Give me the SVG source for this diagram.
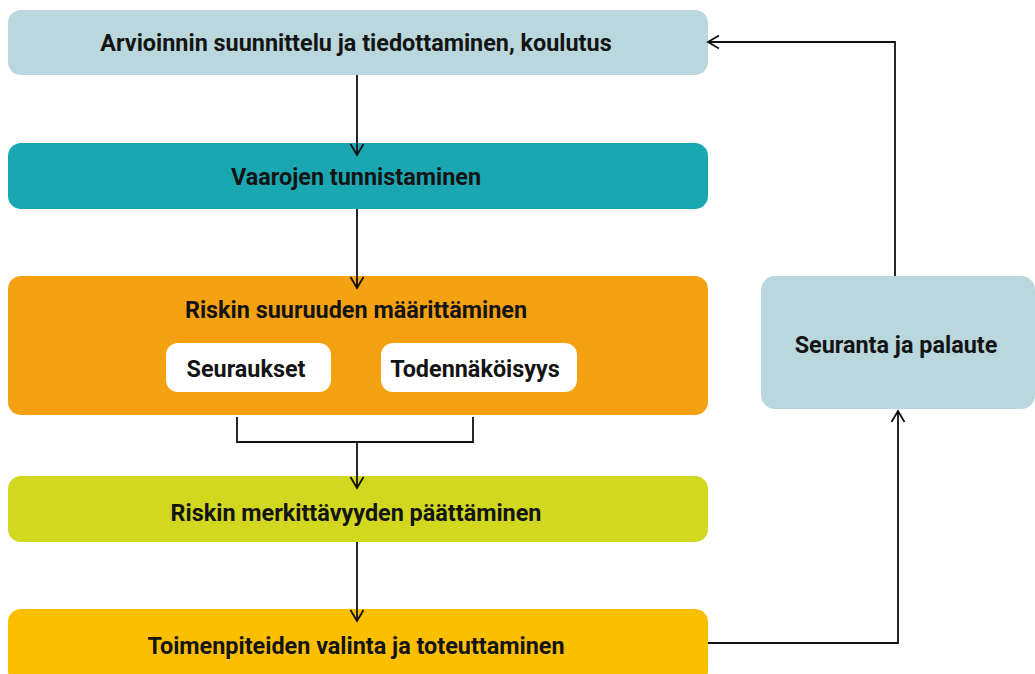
<svg xmlns="http://www.w3.org/2000/svg" width="1035" height="674" viewBox="0 0 1035 674">
<style>
text{font-family:Roboto,"Liberation Sans",sans-serif;font-weight:700;font-size:23.4px;fill:#141414;text-anchor:middle}
.c{fill:none;stroke:#111;stroke-width:1.8}
.h{fill:none;stroke:#111;stroke-width:1.8;stroke-linejoin:miter}
</style>
<rect width="1035" height="674" fill="#fff"/>
<g id="n1"><rect x="8" y="10" width="700" height="65" rx="13" fill="#B9D7DC"/><text x="356" y="51">Arvioinnin suunnittelu ja tiedottaminen, koulutus</text></g>
<g id="n2"><rect x="8" y="143" width="700" height="66" rx="13" fill="#1BA7B2"/><text x="356" y="185">Vaarojen tunnistaminen</text></g>
<g id="n3"><rect x="8" y="276" width="700" height="139" rx="13" fill="#F5A212"/><text x="356" y="318">Riskin suuruuden määrittäminen</text></g>
<g id="n3a"><rect x="166" y="343" width="165" height="49" rx="12" fill="#fff"/><text x="246" y="377">Seuraukset</text></g>
<g id="n3b"><rect x="381" y="343" width="196" height="49" rx="12" fill="#fff"/><text x="475" y="377">Todennäköisyys</text></g>
<g id="n4"><rect x="8" y="476" width="700" height="66" rx="13" fill="#D2D81F"/><text x="356" y="521">Riskin merkittävyyden päättäminen</text></g>
<g id="n5"><rect x="8" y="609" width="700" height="75" rx="13" fill="#FBBF00"/><text x="356" y="654">Toimenpiteiden valinta ja toteuttaminen</text></g>
<g id="n6"><rect x="761" y="276" width="274" height="133" rx="14" fill="#B9D7DC"/><text x="896" y="353">Seuranta ja palaute</text></g>
<g id="connectors">
<path class="c" d="M357 75V155M350.5 144L357 155L363.5 144"/>
<path class="c" d="M357 209V288M350.5 277L357 288L363.5 277"/>
<path class="h" d="M237 417V442H473V417M357 442V488M350.5 477L357 488L363.5 477"/>
<path class="c" d="M357 542V621M350.5 610L357 621L363.5 610"/>
<path class="h" d="M708 643H898V411M891.5 422L898 411L904.5 422"/>
<path class="h" d="M895 276V42H708M719 35.5L708 42L719 48.5"/>
</g>
</svg>
